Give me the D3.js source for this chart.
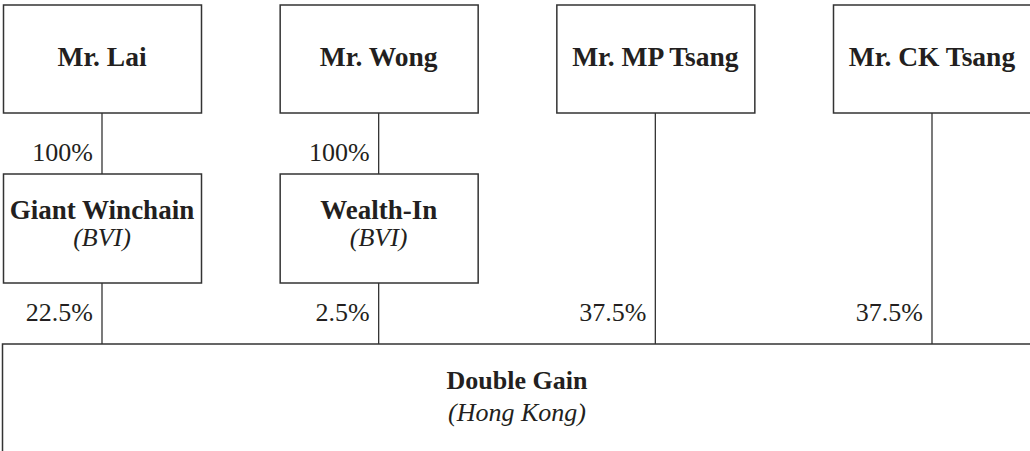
<html lang="en">
  <head>
    <title>Double Gain shareholding</title>
    <script src="https://d3js.org/d3.v7.min.js"></script>
    <style>
      body { margin: 0; background: #fff; }
      #chart text { font-family: "Liberation Serif", "Times New Roman", serif; fill: #231f20; }
      #chart rect { fill: #fff; stroke: #333; stroke-width: 1.5; }
      #chart line { stroke: #333; stroke-width: 1.3; }
    </style>
  </head>
  <body>
    <svg id="chart" width="1030" height="451"></svg>
    <script>

      // top row: individual shareholders
      const owners = ['Mr. Lai', 'Mr. Wong', 'Mr. MP Tsang', 'Mr. CK Tsang']
      // intermediate holding companies (null = held directly)
      const holdcos = ['Giant Winchain', 'Wealth-In', null, null]
      const holdcoPlace = ['(BVI)', '(BVI)', null, null]
      const ownerToHoldco = ['100%', '100%', null, null]
      const stakeInTarget = ['22.5%', '2.5%', '37.5%', '37.5%']
      const target = 'Double Gain'
      const targetPlace = '(Hong Kong)'

      const svg = d3.select('#chart')
      const boxW = 198

      const x = d3.scalePoint()
        .domain(d3.range(owners.length))
        .range([102, 932])

      const y = {
        ownerTop: 5, ownerBottom: 113,
        holdTop: 174, holdBottom: 283,
        targetTop: 344
      }

      const cols = owners.map((name, i) => ({
        i, name, holdco: holdcos[i], place: holdcoPlace[i],
        pct1: ownerToHoldco[i], pct2: stakeInTarget[i]
      }))

      // connector lines
      const lines = svg.append('g')
      lines.selectAll('line.upper')
        .data(cols.filter(d => d.holdco))
        .join('line')
        .attr('class', 'upper')
        .attr('x1', d => x(d.i)).attr('x2', d => x(d.i))
        .attr('y1', y.ownerBottom).attr('y2', y.holdTop)
      lines.selectAll('line.lower')
        .data(cols)
        .join('line')
        .attr('class', 'lower')
        .attr('x1', d => x(d.i)).attr('x2', d => x(d.i))
        .attr('y1', d => d.holdco ? y.holdBottom : y.ownerBottom)
        .attr('y2', y.targetTop)

      // owner boxes
      const ob = svg.append('g').selectAll('g')
        .data(cols)
        .join('g')
      ob.append('rect')
        .attr('x', d => x(d.i) - boxW / 2 + 0.5)
        .attr('y', y.ownerTop)
        .attr('width', boxW)
        .attr('height', y.ownerBottom - y.ownerTop)
      ob.append('text')
        .attr('x', d => x(d.i))
        .attr('y', 66)
        .attr('text-anchor', 'middle')
        .attr('font-size', 27.5)
        .attr('font-weight', 'bold')
        .text(d => d.name)

      // holding company boxes
      const hb = svg.append('g').selectAll('g')
        .data(cols.filter(d => d.holdco))
        .join('g')
      hb.append('rect')
        .attr('x', d => x(d.i) - boxW / 2 + 0.5)
        .attr('y', y.holdTop)
        .attr('width', boxW)
        .attr('height', y.holdBottom - y.holdTop)
      hb.append('text')
        .attr('x', d => x(d.i))
        .attr('y', 219)
        .attr('text-anchor', 'middle')
        .attr('font-size', 27)
        .attr('font-weight', 'bold')
        .text(d => d.holdco)
      hb.append('text')
        .attr('x', d => x(d.i))
        .attr('y', 246)
        .attr('text-anchor', 'middle')
        .attr('font-size', 26)
        .attr('font-style', 'italic')
        .text(d => d.place)

      // percentage labels
      svg.append('g').selectAll('text')
        .data(cols.filter(d => d.pct1))
        .join('text')
        .attr('x', d => x(d.i) - 9)
        .attr('y', 161)
        .attr('text-anchor', 'end')
        .attr('font-size', 26)
        .text(d => d.pct1)
      svg.append('g').selectAll('text')
        .data(cols)
        .join('text')
        .attr('x', d => x(d.i) - 9)
        .attr('y', 321)
        .attr('text-anchor', 'end')
        .attr('font-size', 26)
        .text(d => d.pct2)

      // target company
      svg.append('rect')
        .attr('x', 2.5)
        .attr('y', y.targetTop)
        .attr('width', 1030)
        .attr('height', 200)
      svg.append('text')
        .attr('x', 517).attr('y', 389)
        .attr('text-anchor', 'middle')
        .attr('font-size', 26)
        .attr('font-weight', 'bold')
        .text(target)
      svg.append('text')
        .attr('x', 517).attr('y', 421)
        .attr('text-anchor', 'middle')
        .attr('font-size', 26)
        .attr('font-style', 'italic')
        .text(targetPlace)
    </script>
  </body>
</html>
